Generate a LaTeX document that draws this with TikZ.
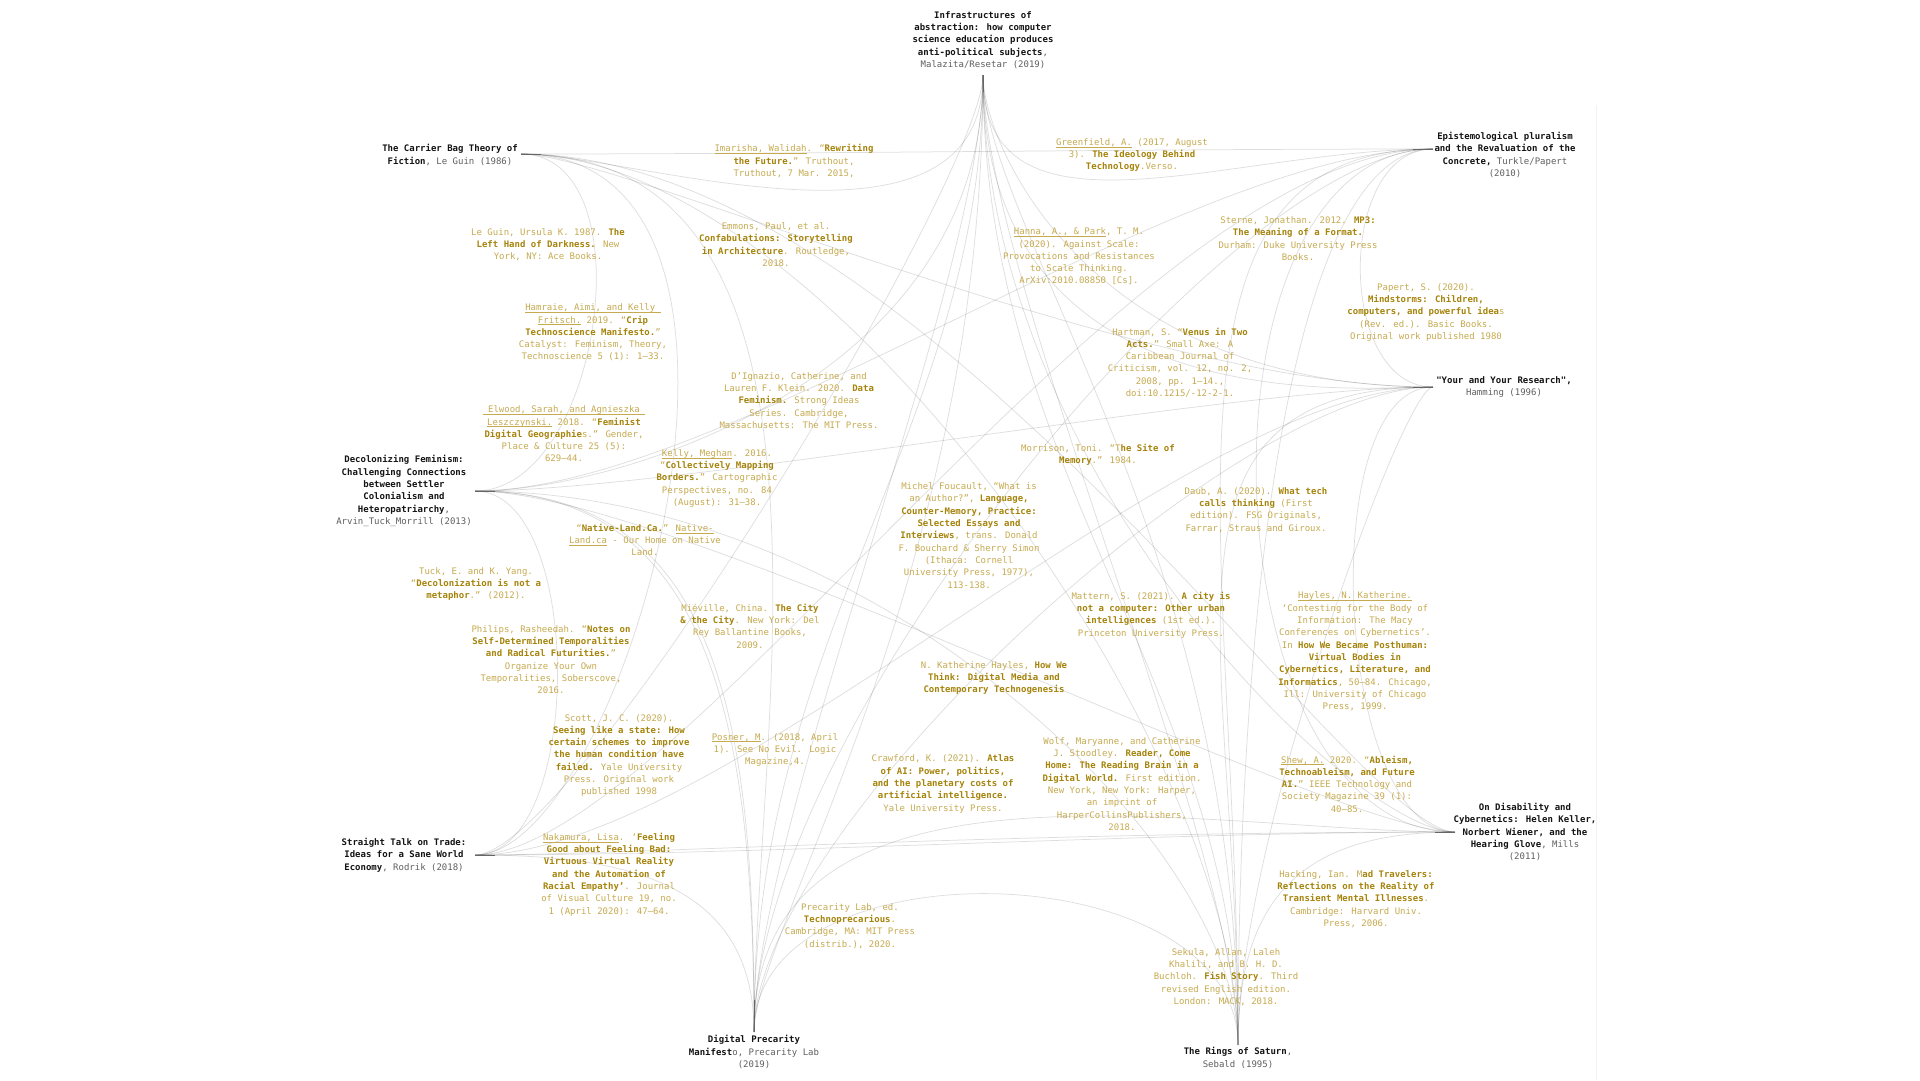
\documentclass[tikz,border=0pt]{standalone}
\usepackage{fontspec}
\newfontfamily\refmono{DejaVu Sans Mono}
\definecolor{goldB}{RGB}{166,132,12}
\definecolor{goldR}{RGB}{198,170,80}
\definecolor{hubK}{RGB}{20,20,20}
\definecolor{hubG}{RGB}{95,95,95}
\newsavebox{\lkbox}
\newcommand{\lk}[1]{\sbox\lkbox{#1}\rlap{\rule[-1.8pt]{\wd\lkbox}{0.5pt}}\usebox\lkbox}
\newcommand{\bb}[1]{{\bfseries\color{goldB}#1}}
\newcommand{\hb}[1]{{\bfseries\color{hubK}#1}}
\begin{document}
\begin{tikzpicture}[x=1pt,y=-1pt,
  lnk/.style={draw=black, draw opacity=0.13, line width=0.75pt},
  stub/.style={draw=black!60, line width=0.9pt},
  hub/.style={align=center, inner sep=0pt, text=hubG, font=\refmono\fontsize{9}{12.3}\selectfont},
  ref/.style={align=center, inner sep=0pt, text=goldR, font=\refmono\fontsize{9}{12.3}\selectfont}]
\fill[white] (0,0) rectangle (1920,1080);
\useasboundingbox (0,0) rectangle (1920,1080);
\draw[black!5, line width=1pt] (1596,105) -- (1596,1080);

% hub anchor points
\coordinate (inf) at (983,75);
\coordinate (cb) at (521,154);
\coordinate (ep) at (1433,149);
\coordinate (yr) at (1433,387);
\coordinate (df) at (475,491);
\coordinate (st) at (475,855);
\coordinate (dp) at (754,1032);
\coordinate (rs) at (1238,1045);
\coordinate (od) at (1455,832);
\coordinate (inf-s) at (983,92);
\coordinate (cb-s) at (541,154);
\coordinate (ep-s) at (1413,149);
\coordinate (yr-s) at (1413,387);
\coordinate (df-s) at (495,491);
\coordinate (st-s) at (495,855);
\coordinate (dp-s) at (754,1000);
\coordinate (od-s) at (1435,832);

% connectors
\draw[lnk] (cb) .. controls +(300,0) and +(-300,0) .. (ep);
\draw[lnk] (cb) .. controls +(112,0) and +(0,200) .. (inf);
\draw[lnk] (inf) .. controls +(0,180) and +(-203,0) .. (ep);
\draw[lnk] (cb) .. controls +(127,0) and +(127,0) .. (df);
\draw[lnk] (cb) .. controls +(350,0) and +(0,-300) .. (dp);
\draw[lnk] (cb) .. controls +(100,0) and +(-300,0) .. (yr);
\draw[lnk] (cb) .. controls +(300,0) and +(0,-300) .. (rs);
\draw[lnk] (cb) .. controls +(400,0) and +(-100,0) .. (od);
\draw[lnk] (cb) .. controls +(300,0) and +(150,0) .. (st);
\draw[lnk] (df) .. controls +(200,0) and +(-123,0) .. (od);
\draw[lnk] (df) .. controls +(200,0) and +(-200,0) .. (yr);
\draw[lnk] (df) .. controls +(250,0) and +(-250,0) .. (ep);
\draw[lnk] (df) .. controls +(250,0) and +(0,-300) .. (dp);
\draw[lnk] (df) .. controls +(230,0) and +(0,-320) .. (dp);
\draw[lnk] (df) .. controls +(400,0) and +(0,-200) .. (rs);
\draw[lnk] (st) .. controls +(300,0) and +(-300,0) .. (od);
\draw[lnk] (st) .. controls +(150,0) and +(-450,0) .. (od);
\draw[lnk] (st) .. controls +(150,0) and +(0,-150) .. (dp);
\draw[lnk] (st) .. controls +(110,0) and +(110,0) .. (df);
\draw[lnk] (st) .. controls +(100,0) and +(0,100) .. (inf);
\draw[lnk] (st) .. controls +(250,0) and +(-250,0) .. (yr);
\draw[lnk] (st) .. controls +(200,0) and +(-300,0) .. (ep);
\draw[lnk] (dp) .. controls +(0,-200) and +(0,200) .. (inf);
\draw[lnk] (dp) .. controls +(0,-400) and +(0,350) .. (inf);
\draw[lnk] (dp) .. controls +(0,-100) and +(0,500) .. (inf);
\draw[lnk] (dp) .. controls +(0,-300) and +(-200,0) .. (ep);
\draw[lnk] (dp) .. controls +(0,-200) and +(-200,0) .. (yr);
\draw[lnk] (dp) .. controls +(0,-193) and +(0,-193) .. (rs);
\draw[lnk] (dp) .. controls +(0,-300) and +(-250,0) .. (od);
\draw[lnk] (rs) .. controls +(0,-200) and +(0,200) .. (inf);
\draw[lnk] (rs) .. controls +(0,-350) and +(0,400) .. (inf);
\draw[lnk] (rs) .. controls +(0,-500) and +(0,150) .. (inf);
\draw[lnk] (rs) .. controls +(0,-500) and +(-300,0) .. (ep);
\draw[lnk] (rs) .. controls +(0,-400) and +(-150,0) .. (ep);
\draw[lnk] (rs) .. controls +(0,-200) and +(-30,0) .. (yr);
\draw[lnk] (rs) .. controls +(0,-400) and +(-300,0) .. (yr);
\draw[lnk] (rs) .. controls +(0,-150) and +(-150,0) .. (od);
\draw[lnk] (od) .. controls +(-120,0) and +(-120,0) .. (yr);
\draw[lnk] (od) .. controls +(-250,0) and +(-250,0) .. (ep);
\draw[lnk] (yr) .. controls +(-97,0) and +(-97,0) .. (ep);
\draw[lnk] (yr) .. controls +(-344,0) and +(0,70) .. (inf);
\draw[lnk] (yr) .. controls +(-75,0) and +(0,350) .. (inf);
\draw[lnk] (inf) .. controls +(0,300) and +(150,0) .. (df);
\draw[lnk] (inf) .. controls +(0,400) and +(-100,0) .. (od);

\foreach \h in {inf,cb,ep,yr,df,st,dp,od} \draw[stub] (\h) -- (\h-s);

% hub texts
\node[hub] (infT) at (983,40) {\hb{Infrastructures of}\\\hb{abstraction: how computer}\\\hb{science education produces}\\\hb{anti-political subjects},\\Malazita/Resetar (2019)};
\node[hub] (cbT) at (450,155) {\hb{The Carrier Bag Theory of}\\\hb{Fiction}, Le Guin (1986)};
\node[hub] (epT) at (1505,155) {\hb{Epistemological pluralism}\\\hb{and the Revaluation of the}\\\hb{Concrete,} Turkle/Papert\\(2010)};
\node[hub] (yrT) at (1504,387) {\hb{"Your and Your Research",}\\Hamming (1996)};
\node[hub] (dfT) at (404,491) {\hb{Decolonizing Feminism:}\\\hb{Challenging Connections}\\\hb{between Settler}\\\hb{Colonialism and}\\\hb{Heteropatriarchy},\\Arvin\_Tuck\_Morrill (2013)};
\node[hub] (stT) at (404,855) {\hb{Straight Talk on Trade:}\\\hb{Ideas for a Sane World}\\\hb{Economy}, Rodrik (2018)};
\node[hub] (dpT) at (754,1052) {\hb{Digital Precarity}\\\hb{Manifest}o, Precarity Lab\\(2019)};
\node[hub] (rsT) at (1238,1058) {\hb{The Rings of Saturn},\\Sebald (1995)};
\node[hub] (odT) at (1525,832) {\hb{On Disability and}\\\hb{Cybernetics: Helen Keller,}\\\hb{Norbert Wiener, and the}\\\hb{Hearing Glove}, Mills\\(2011)};

% reference texts
\node[ref] (imarisha) at (794,161) {\lk{Imarisha, Walidah}. “\bb{Rewriting}\\\bb{the Future.}” Truthout,\\Truthout, 7 Mar. 2015,};
\node[ref] (greenfield) at (1132,155) {\lk{Greenfield, A.} (2017, August\\3). \bb{The Ideology Behind}\\\bb{Technology}.Verso.};
\node[ref] (leguin) at (548,244.5) {Le Guin, Ursula K. 1987. \bb{The}\\\bb{Left Hand of Darkness.} New\\York, NY: Ace Books.};
\node[ref] (emmons) at (776,244.5) {Emmons, Paul, et al.\\\bb{Confabulations: Storytelling}\\\bb{in Architecture}. Routledge,\\2018.};
\node[ref] (hanna) at (1079,256.5) {\lk{Hanna, A., \& Park}, T. M.\\(2020). Against Scale:\\Provocations and Resistances\\to Scale Thinking.\\ArXiv:2010.08850 [Cs].};
\node[ref] (sterne) at (1298,238.5) {Sterne, Jonathan. 2012. \bb{MP3:}\\\bb{The Meaning of a Format.}\\Durham: Duke University Press\\Books.};
\node[ref] (papert) at (1426,312.5) {Papert, S. (2020).\\\bb{Mindstorms: Children,}\\\bb{computers, and powerful idea}s\\(Rev. ed.). Basic Books.\\Original work published 1980};
\node[ref] (hamraie) at (593,332.5) {\lk{Hamraie, Aimi, and Kelly }\\\lk{Fritsch.} 2019. “\bb{Crip}\\\bb{Technoscience Manifesto.}”\\Catalyst: Feminism, Theory,\\Technoscience 5 (1): 1–33.};
\node[ref] (elwood) at (564,434) {\lk{ Elwood, Sarah, and Agnieszka }\\\lk{Leszczynski.} 2018. “\bb{Feminist}\\\bb{Digital Geographie}s.” Gender,\\Place \& Culture 25 (5):\\629–44.};
\node[ref] (dignazio) at (799,400.5) {D’Ignazio, Catherine, and\\Lauren F. Klein. 2020. \bb{Data}\\\bb{Feminism.} Strong Ideas\\Series. Cambridge,\\Massachusetts: The MIT Press.};
\node[ref] (kelly) at (717,478.5) {\lk{Kelly, Meghan}. 2016.\\“\bb{Collectively Mapping}\\\bb{Borders.}” Cartographic\\Perspectives, no. 84\\(August): 31–38.};
\node[ref] (nativeland) at (645,540) {“\bb{Native-Land.Ca.}” \lk{Native-}\\\lk{Land.ca} - Our Home on Native\\Land.};
\node[ref] (hartman) at (1180,362.5) {Hartman, S. “\bb{Venus in Two}\\\bb{Acts.}” Small Axe: A\\Caribbean Journal of\\Criticism, vol. 12, no. 2,\\2008, pp. 1–14.,\\doi:10.1215/-12-2-1.};
\node[ref] (morrison) at (1098,455) {Morrison, Toni. “T\bb{he Site of}\\\bb{Memory}.” 1984.};
\node[ref] (foucault) at (969,535.5) {Michel Foucault, “What is\\an Author?”, \bb{Language,}\\\bb{Counter-Memory, Practice:}\\\bb{Selected Essays and}\\\bb{Interviews}, trans. Donald\\F. Bouchard \& Sherry Simon\\(Ithaca: Cornell\\University Press, 1977),\\113-138.};
\node[ref] (daub) at (1256,510) {Daub, A. (2020). \bb{What tech}\\\bb{calls thinking} (First\\edition). FSG Originals,\\Farrar, Straus and Giroux.};
\node[ref] (tuck) at (476,584) {Tuck, E. and K. Yang.\\“\bb{Decolonization is not a}\\\bb{metaphor}.” (2012).};
\node[ref] (mieville) at (750,626) {Miéville, China. \bb{The City}\\\bb{\& the City}. New York: Del\\Rey Ballantine Books,\\2009.};
\node[ref] (philips) at (551,659.5) {Philips, Rasheedah. “\bb{Notes on}\\\bb{Self-Determined Temporalities}\\\bb{and Radical Futurities.}”\\Organize Your Own\\Temporalities, Soberscove,\\2016.};
\node[ref] (mattern) at (1151,615) {Mattern, S. (2021). \bb{A city is}\\\bb{not a computer: Other urban}\\\bb{intelligences} (1st ed.).\\Princeton University Press.};
\node[ref] (haylesu) at (1355,651.5) {\lk{Hayles, N. Katherine.}\\‘Contesting for the Body of\\Information: The Macy\\Conferences on Cybernetics’.\\In \bb{How We Became Posthuman:}\\\bb{Virtual Bodies in}\\\bb{Cybernetics, Literature, and}\\\bb{Informatics}, 50–84. Chicago,\\Ill: University of Chicago\\Press, 1999.};
\node[ref] (haylesv) at (994,678) {N. Katherine Hayles, \bb{How We}\\\bb{Think: Digital Media and}\\\bb{Contemporary Technogenesis}};
\node[ref] (scott) at (619,755.5) {Scott, J. C. (2020).\\\bb{Seeing like a state: How}\\\bb{certain schemes to improve}\\\bb{the human condition have}\\\bb{failed.} Yale University\\Press. Original work\\published 1998};
\node[ref] (posner) at (775,750) {\lk{Posner, M}. (2018, April\\1). See No Evil. Logic\\Magazine,4.};
\node[ref] (crawford) at (943,784) {Crawford, K. (2021). \bb{Atlas}\\\bb{of AI: Power, politics,}\\\bb{and the planetary costs of}\\\bb{artificial intelligence.}\\Yale University Press.};
\node[ref] (wolf) at (1122,784) {Wolf, Maryanne, and Catherine\\J. Stoodley. \bb{Reader, Come}\\\bb{Home: The Reading Brain in a}\\\bb{Digital World.} First edition.\\New York, New York: Harper,\\an imprint of\\HarperCollinsPublishers,\\2018.};
\node[ref] (shew) at (1347,784) {\lk{Shew, A.} 2020. “\bb{Ableism,}\\\bb{Technoableism, and Future}\\\bb{AI.}” IEEE Technology and\\Society Magazine 39 (1):\\40–85.};
\node[ref] (nakamura) at (609,874.5) {\lk{Nakamura, Lisa}. ‘\bb{Feeling}\\\bb{Good about Feeling Bad:}\\\bb{Virtuous Virtual Reality}\\\bb{and the Automation of}\\\bb{Racial Empathy’}. Journal\\of Visual Culture 19, no.\\1 (April 2020): 47–64.};
\node[ref] (preclab) at (850,926) {Precarity Lab, ed.\\\bb{Technoprecarious}.\\Cambridge, MA: MIT Press\\(distrib.), 2020.};
\node[ref] (hacking) at (1356,899) {Hacking, Ian. M\bb{ad Travelers:}\\\bb{Reflections on the Reality of}\\\bb{Transient Mental Illnesses}.\\Cambridge: Harvard Univ.\\Press, 2006.};
\node[ref] (sekula) at (1226,977) {Sekula, Allan, Laleh\\Khalili, and B. H. D.\\Buchloh. \bb{Fish Story}. Third\\revised English edition.\\London: MACK, 2018.};
\end{tikzpicture}
\end{document}
